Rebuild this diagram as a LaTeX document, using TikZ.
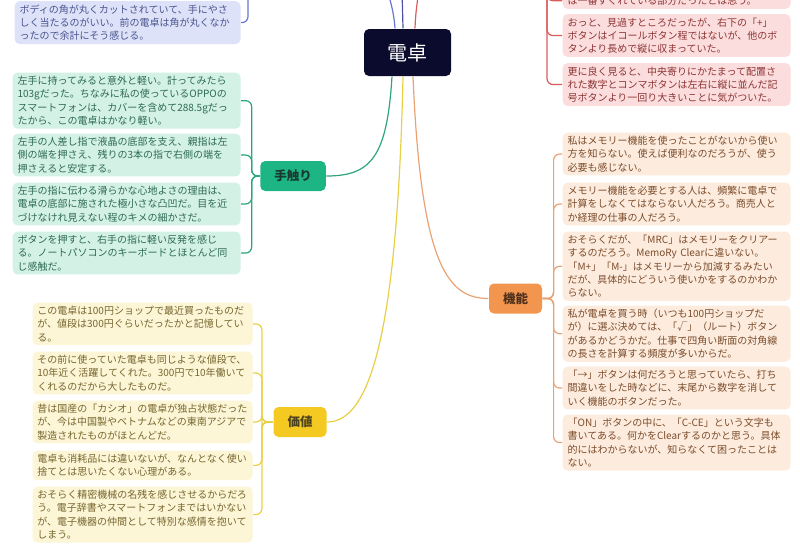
\documentclass[tikz,border=0pt]{standalone}
\usepackage{fontspec}
\newfontfamily\jp{Noto Sans CJK JP}
\definecolor{hubc}{HTML}{0B0B2E}
\definecolor{gcat}{HTML}{1DB584}
\definecolor{glink}{HTML}{2BA57C}
\definecolor{gleaf}{HTML}{D3F1E5}
\definecolor{gtext}{HTML}{2E6A55}
\definecolor{ocat}{HTML}{F2964F}
\definecolor{olink}{HTML}{E9A274}
\definecolor{oleaf}{HTML}{FDECDD}
\definecolor{otext}{HTML}{7B4C2C}
\definecolor{ycat}{HTML}{F3C922}
\definecolor{ylink}{HTML}{E8CF45}
\definecolor{yleaf}{HTML}{FCF5D6}
\definecolor{ytext}{HTML}{76662E}
\definecolor{rlink}{HTML}{D95B5B}
\definecolor{rleaf}{HTML}{FCDDDD}
\definecolor{rtext}{HTML}{8C3434}
\definecolor{blink}{HTML}{6776CF}
\definecolor{ilink}{HTML}{4C54A2}
\definecolor{bleaf}{HTML}{DDE2F8}
\definecolor{btext}{HTML}{4A5590}
\begin{document}
\begin{tikzpicture}[x=1pt,y=-1pt,line width=1.2pt,
	hub/.style={fill=hubc, text=white, rounded corners=5pt, minimum width=87pt, minimum height=47pt, font=\jp\fontsize{20}{21}\selectfont},
	cat/.style={rounded corners=5pt, minimum height=30pt, inner xsep=14pt, font=\jp\bfseries\fontsize{12.5}{14}\selectfont},
	leaf/.style={anchor=north west, rounded corners=5pt, inner xsep=5pt, inner ysep=3.5pt, text width=218pt, align=left, font=\jp\fontsize{10}{13.3}\selectfont},
	gleafbox/.style={leaf, fill=gleaf, text=gtext},
	oleafbox/.style={leaf, fill=oleaf, text=otext},
	yleafbox/.style={leaf, fill=yleaf, text=ytext, text width=210.5pt, inner xsep=4.75pt},
	rleafbox/.style={leaf, fill=rleaf, text=rtext},
	bleafbox/.style={leaf, fill=bleaf, text=btext, text width=216pt},
	brace/.style={rounded corners=6pt}]
	\clip (0,0) rectangle (800,550);
	\node (hub) at (407.5,52.5)	[hub]	{電卓};
	\node (kin) at (293,176)	[cat, fill=gcat, text=gtext!55!black]	{手触り};
	\node (fun) at (515.5,298.5)	[cat, fill=ocat, text=otext!65!black]	{機能};
	\node (val) at (300,422)	[cat, fill=ycat, text=ytext!65!black]	{価値};
	\coordinate (bluec) at (258,-150);
	\coordinate (indc) at (390,-150);
	\coordinate (redc) at (537,-150);

	\node (b1) at (14,0.5)	[bleafbox]	{ボディの角が丸くカットされていて、手にやさ\\しく当たるのがいい。前の電卓は角が丸くなか\\ったので余計にそう感じる。};

	\node (r1) at (562,-8)	[rleafbox]	{は一番すぐれている部分だったとは思う。};
	\node (r2) at (562,13.5)	[rleafbox]	{おっと、見過すところだったが、右下の「+」\\ボタンはイコールボタン程ではないが、他のボ\\タンより長めで縦に収まっていた。};
	\node (r3) at (562,62.5)	[rleafbox]	{更に良く見ると、中央寄りにかたまって配置さ\\れた数字とコンマボタンは左右に縦に並んだ記\\号ボタンより一回り大きいことに気がついた。};

	\node (g1) at (12,72)	[gleafbox]	{左手に持ってみると意外と軽い。計ってみたら\\103gだった。ちなみに私の使っているOPPOの\\スマートフォンは、カバーを含めて288.5gだっ\\たから、この電卓はかなり軽い。};
	\node (g2) at (12,133)	[gleafbox]	{左手の人差し指で液晶の底部を支え、親指は左\\側の端を押さえ、残りの3本の指で右側の端を\\押さえると安定する。};
	\node (g3) at (12,182)	[gleafbox]	{左手の指に伝わる滑らかな心地よさの理由は、\\電卓の底部に施された極小さな凸凹だ。目を近\\づけなけれ見えない程のキメの細かさだ。};
	\node (g4) at (12,231)	[gleafbox]	{ボタンを押すと、右手の指に軽い反発を感じ\\る。ノートパソコンのキーボードとほとんど同\\じ感触だ。};

	\node (o1) at (562,132)	[oleafbox]	{私はメモリー機能を使ったことがないから使い\\方を知らない。使えば便利なのだろうが、使う\\必要も感じない。};
	\node (o2) at (562,182)	[oleafbox]	{メモリー機能を必要とする人は、頻繁に電卓で\\計算をしなくてはならない人だろう。商売人と\\か経理の仕事の人だろう。};
	\node (o3) at (562,231)	[oleafbox]	{おそらくだが、「MRC」はメモリーをクリアー\\するのだろう。MemoRy Clearに違いない。\\「M+」「M-」はメモリーから加減するみたい\\だが、具体的にどういう使いかをするのかわか\\らない。};
	\node (o4) at (562,305)	[oleafbox]	{私が電卓を買う時（いつも100円ショップだ\\が）に選ぶ決めては、「√」（ルート）ボタン\\があるかどうかだ。仕事で四角い断面の対角線\\の長さを計算する頻度が多いからだ。};
	\node (o5) at (562,366)	[oleafbox]	{「→」ボタンは何だろうと思っていたら、打ち\\間違いをした時などに、末尾から数字を消して\\いく機能のボタンだった。};
	\node (o6) at (562,414)	[oleafbox]	{「ON」ボタンの中に、「C-CE」という文字も\\書いてある。何かをClearするのかと思う。具体\\的にはわからないが、知らなくて困ったことは\\ない。};

	\node (y1) at (32,302)	[yleafbox]	{この電卓は100円ショップで最近買ったものだ\\が、値段は300円ぐらいだったかと記憶してい\\る。};
	\node (y2) at (32,351)	[yleafbox]	{その前に使っていた電卓も同じような値段で、\\10年近く活躍してくれた。300円で10年働いて\\くれるのだから大したものだ。};
	\node (y3) at (32,400)	[yleafbox]	{昔は国産の「カシオ」の電卓が独占状態だった\\が、今は中国製やベトナムなどの東南アジアで\\製造されたものがほとんどだ。};
	\node (y4) at (32,450)	[yleafbox]	{電卓も消耗品には違いないが、なんとなく使い\\捨てとは思いたくない心理がある。};
	\node (y5) at (32,486)	[yleafbox]	{おそらく精密機械の名残を感じさせるからだろ\\う。電子辞書やスマートフォンまではいかない\\が、電子機器の仲間として特別な感情を抱いて\\しまう。};

	\draw[blink] ([xshift=-12.5pt]hub.north) .. controls +(-5,-80) and (300,-150) .. (bluec);
	\draw[ilink] ([xshift=-4.5pt]hub.north) .. controls +(-2,-80) .. (indc);
	\draw[rlink] ([xshift=7.5pt]hub.north) .. controls +(3,-90) and (470,-150) .. (redc);
	\draw[glink] ([xshift=-15.5pt]hub.south) .. controls +(-5,80) and +(45,0) .. (kin.east);
	\draw[ylink] ([xshift=-4.5pt]hub.south) .. controls +(-6,270) and +(40,0) .. (val.east);
	\draw[olink] ([xshift=5.5pt]hub.south) .. controls +(8,190) and +(-40,0) .. (fun.west);

	\draw[blink, brace] (bluec) -- ++(-10,0) |- (b1.east);
	\draw[rlink, brace] (redc) -- ++(10,0) |- (r1.west);
	\draw[rlink, brace] (redc) -- ++(10,0) |- (r2.west);
	\draw[rlink, brace] (redc) -- ++(10,0) |- (r3.west);
	\draw[glink, brace] (kin.west) -- ++(-8,0) |- (g1.east);
	\draw[glink, brace] (kin.west) -- ++(-8,0) |- (g2.east);
	\draw[glink, brace] (kin.west) -- ++(-8,0) |- (g3.east);
	\draw[glink, brace] (kin.west) -- ++(-8,0) |- (g4.east);
	\draw[olink, brace] (fun.east) -- ++(11,0) |- (o1.west);
	\draw[olink, brace] (fun.east) -- ++(11,0) |- (o2.west);
	\draw[olink, brace] (fun.east) -- ++(11,0) |- (o3.west);
	\draw[olink, brace] (fun.east) -- ++(11,0) |- (o4.west);
	\draw[olink, brace] (fun.east) -- ++(11,0) |- (o5.west);
	\draw[olink, brace] (fun.east) -- ++(11,0) |- (o6.west);
	\draw[ylink, brace] (val.west) -- ++(-11,0) |- (y1.east);
	\draw[ylink, brace] (val.west) -- ++(-11,0) |- (y2.east);
	\draw[ylink, brace] (val.west) -- ++(-11,0) |- (y3.east);
	\draw[ylink, brace] (val.west) -- ++(-11,0) |- (y4.east);
	\draw[ylink, brace] (val.west) -- ++(-11,0) |- (y5.east);
\end{tikzpicture}
\end{document}
